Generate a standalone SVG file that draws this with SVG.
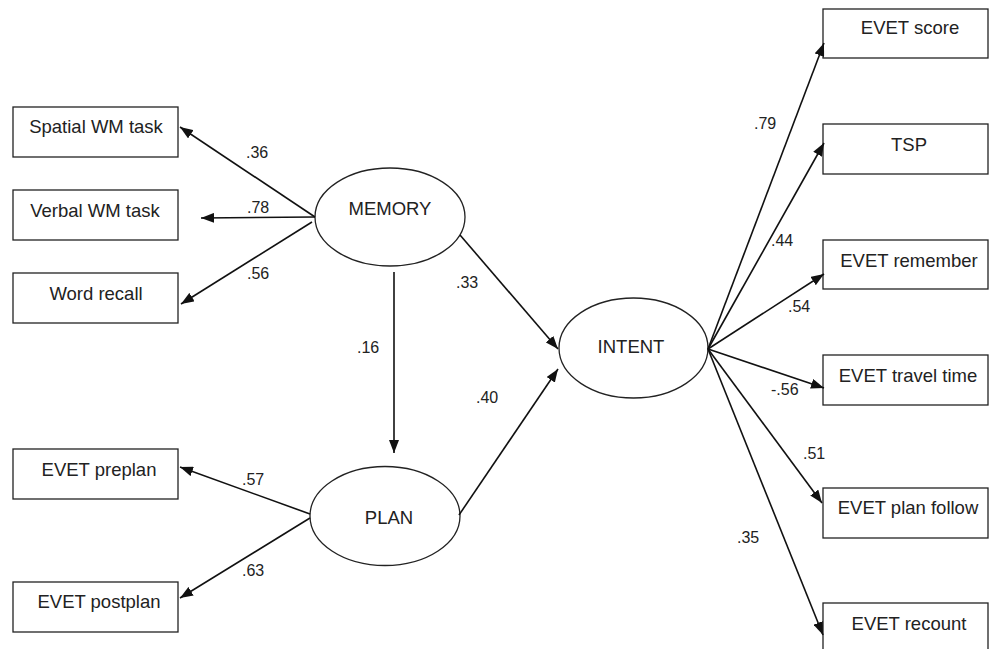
<svg xmlns="http://www.w3.org/2000/svg" width="990" height="649" viewBox="0 0 990 649">
<style>
.box{fill:#fff;stroke:#222;stroke-width:1.3}
.ell{fill:#fff;stroke:#222;stroke-width:1.3}
.t{font-family:"Liberation Sans",Arial,sans-serif;font-size:18.5px;fill:#222;text-anchor:middle}
.n{font-family:"Liberation Sans",Arial,sans-serif;font-size:16px;fill:#222}
.c line{stroke:#111;stroke-width:1.6;marker-end:url(#ah)}
</style>
<defs>
<marker id="ah" markerUnits="userSpaceOnUse" markerWidth="13" markerHeight="10" refX="13" refY="5" orient="auto">
<path d="M0,0 L13,5 L0,10 z" fill="#111"/>
</marker>
</defs>
<rect width="990" height="649" fill="#fff"/>
<g id="spatial"><rect class="box" x="13" y="107" width="165" height="50"/><text class="t" x="96" y="133">Spatial WM task</text></g>
<g id="verbal"><rect class="box" x="13" y="190" width="165" height="50"/><text class="t" x="95" y="217">Verbal WM task</text></g>
<g id="wordrecall"><rect class="box" x="13" y="273" width="165" height="50"/><text class="t" x="96" y="300">Word recall</text></g>
<g id="preplan"><rect class="box" x="13" y="449" width="165" height="50"/><text class="t" x="99" y="476">EVET preplan</text></g>
<g id="postplan"><rect class="box" x="13" y="582" width="165" height="50"/><text class="t" x="99" y="608">EVET postplan</text></g>
<g id="memory"><ellipse class="ell" cx="390" cy="217" rx="75" ry="49"/><text class="t" x="390" y="215">MEMORY</text></g>
<g id="plan"><ellipse class="ell" cx="385" cy="516" rx="75" ry="49.5"/><text class="t" x="389" y="524">PLAN</text></g>
<g id="intent"><ellipse class="ell" cx="633.5" cy="348" rx="74.5" ry="50"/><text class="t" x="631" y="353">INTENT</text></g>
<g id="evetscore"><rect class="box" x="823" y="9" width="165" height="49"/><text class="t" x="910" y="34">EVET score</text></g>
<g id="tsp"><rect class="box" x="823" y="124" width="165" height="50"/><text class="t" x="909" y="151">TSP</text></g>
<g id="remember"><rect class="box" x="823" y="240" width="165" height="49"/><text class="t" x="909" y="267">EVET remember</text></g>
<g id="traveltime"><rect class="box" x="823" y="355" width="165" height="50"/><text class="t" x="908" y="382">EVET travel time</text></g>
<g id="planfollow"><rect class="box" x="823" y="488" width="165" height="50"/><text class="t" x="908" y="514">EVET plan follow</text></g>
<g id="recount"><rect class="box" x="823" y="603" width="165" height="50"/><text class="t" x="909" y="630">EVET recount</text></g>
<g id="connectors" class="c">
<line x1="315" y1="217" x2="180" y2="127"/>
<line x1="315" y1="217" x2="201" y2="218"/>
<line x1="312" y1="222" x2="181" y2="304"/>
<line x1="394" y1="272" x2="394" y2="453"/>
<line x1="310" y1="514" x2="180" y2="467"/>
<line x1="310" y1="518" x2="180" y2="598"/>
<line x1="460" y1="235" x2="558" y2="349"/>
<line x1="459" y1="515" x2="558" y2="369"/>
<line x1="708" y1="349" x2="824" y2="43"/>
<line x1="708" y1="349" x2="824" y2="143"/>
<line x1="708" y1="349" x2="824" y2="274"/>
<line x1="708" y1="349" x2="824" y2="388"/>
<line x1="708" y1="349" x2="822" y2="503"/>
<line x1="708" y1="349" x2="823" y2="635"/>
</g>
<g id="labels">
<text class="n" x="246" y="158">.36</text>
<text class="n" x="247" y="213">.78</text>
<text class="n" x="247" y="279">.56</text>
<text class="n" x="357" y="353">.16</text>
<text class="n" x="242" y="485">.57</text>
<text class="n" x="242" y="576">.63</text>
<text class="n" x="456" y="288">.33</text>
<text class="n" x="476" y="403">.40</text>
<text class="n" x="754" y="129">.79</text>
<text class="n" x="771" y="246">.44</text>
<text class="n" x="788" y="312">.54</text>
<text class="n" x="771" y="395">-.56</text>
<text class="n" x="803" y="459">.51</text>
<text class="n" x="737" y="543">.35</text>
</g>
</svg>
